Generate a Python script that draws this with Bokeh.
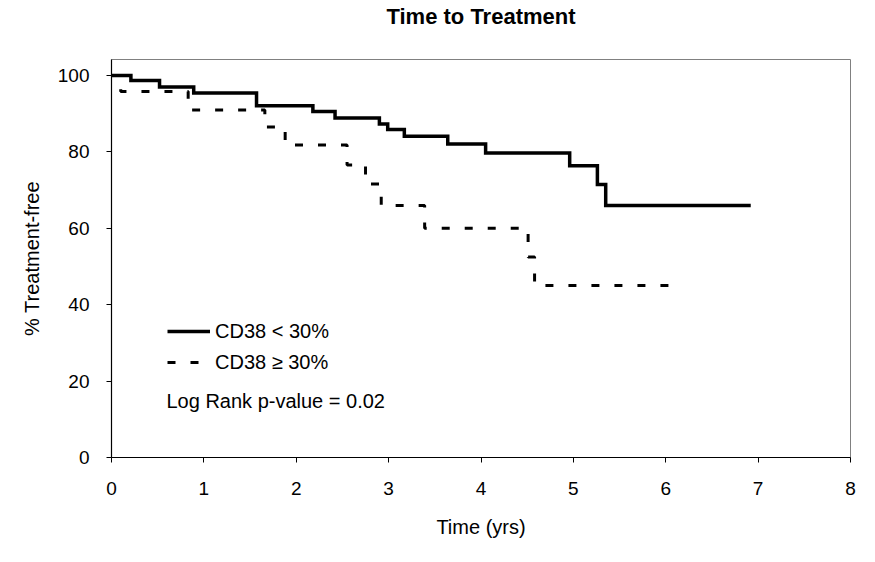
from bokeh.plotting import figure
from bokeh.models import Range1d, FixedTicker, Legend, LegendItem, Label, Title
from bokeh.embed import file_html
from bokeh.resources import INLINE

# Kaplan-Meier style step data
solid_time = [0, 0.21, 0.52, 0.89, 1.57, 2.18, 2.42, 2.90, 2.99, 3.17, 3.64, 4.05, 4.96, 5.26, 5.35, 6.92]
solid_pct = [100, 98.7, 97.0, 95.4, 92.1, 90.6, 88.9, 87.3, 85.9, 84.1, 82.1, 79.7, 76.4, 71.5, 66.0, 66.0]

dashed_time = [0, 0.10, 0.83, 1.66, 1.88, 2.55, 2.75, 2.92, 3.39, 4.51, 4.58, 6.17]
dashed_pct = [100, 95.8, 91.0, 86.5, 81.8, 76.6, 71.6, 66.0, 60.0, 52.5, 45.0, 45.0]

x_ticks = [0, 1, 2, 3, 4, 5, 6, 7, 8]
y_ticks = [0, 20, 40, 60, 80, 100]

labels = ["CD38 < 30%", "CD38 \u2265 30%"]
annotation = "Log Rank p-value = 0.02"
title = "Time to Treatment"

FONT = "Liberation Sans"

p = figure(width=859, height=546, output_backend="svg", toolbar_location=None,
           x_range=Range1d(0, 8), y_range=Range1d(0, 104.2),
           min_border_left=111, min_border_right=9, min_border_top=59, min_border_bottom=89,
           background_fill_color="white", border_fill_color="white")

p.title.text = title
p.title.align = "center"
p.title.text_font = FONT
p.title.text_font_size = "22px"
p.title.text_font_style = "bold"
p.title.text_color = "black"
p.title.standoff = 2

# empty spacer between title and frame, to lift the title up
p.add_layout(Title(text=" ", text_font_size="1px", standoff=27), "above")

p.outline_line_color = "#808080"
p.outline_line_width = 1
p.xgrid.visible = False
p.ygrid.visible = False

for ax in (p.xaxis[0], p.yaxis[0]):
    ax.axis_line_color = "black"
    ax.axis_line_width = 1.2
    ax.major_tick_line_color = "black"
    ax.major_tick_out = 5
    ax.major_tick_in = 0
    ax.minor_tick_line_color = None
    ax.major_label_text_font = FONT
    ax.major_label_text_font_size = "19px"
    ax.major_label_text_color = "black"
    ax.axis_label_text_font = FONT
    ax.axis_label_text_font_size = "20px"
    ax.axis_label_text_font_style = "normal"
    ax.axis_label_text_color = "black"

p.xaxis[0].major_label_standoff = 19
p.yaxis[0].major_label_standoff = 17
p.xaxis[0].ticker = FixedTicker(ticks=x_ticks)
p.yaxis[0].ticker = FixedTicker(ticks=y_ticks)
p.xaxis[0].axis_label = "Time (yrs)"
p.yaxis[0].axis_label = "% Treatment-free"
p.xaxis[0].axis_label_standoff = 18
p.yaxis[0].axis_label_standoff = 12

r1 = p.step(solid_time, solid_pct, mode="after", line_color="black", line_width=3.5,
            line_join="miter")
r2 = p.step(dashed_time, dashed_pct, mode="after", line_color="black", line_width=3,
            line_dash="8 15")

legend = Legend(items=[LegendItem(label=labels[0], renderers=[r1]),
                       LegendItem(label=labels[1], renderers=[r2])],
                location=(56, 81), padding=0, margin=0, spacing=3,
                glyph_width=43, glyph_height=28, label_height=28, label_standoff=5,
                label_text_font=FONT, label_text_font_size="20px", label_text_color="black",
                border_line_color=None, background_fill_alpha=0)
p.add_layout(legend, "center")

p.add_layout(Label(x=0.595, y=14.7, text=annotation, text_baseline="middle",
                   text_font=FONT, text_font_size="20px", text_color="black"))

open("out.html", "w").write(file_html(p, INLINE))
